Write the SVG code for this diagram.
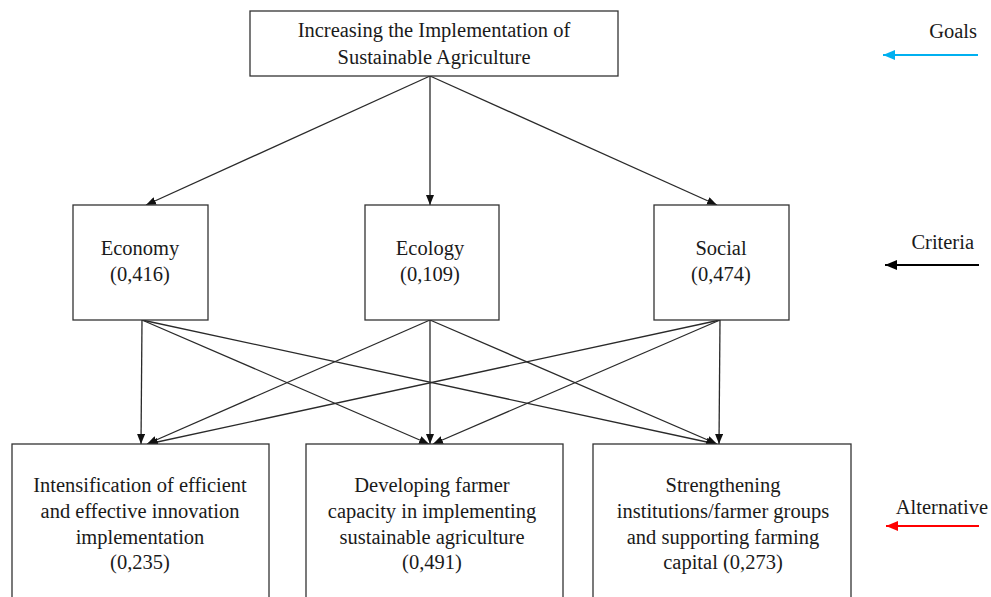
<svg xmlns="http://www.w3.org/2000/svg" width="991" height="597" viewBox="0 0 991 597">
<style>
  .box{fill:#fff;stroke:#333;stroke-width:1.3}
  .t{font-family:"Liberation Serif","DejaVu Serif","Times New Roman",serif;font-size:20.5px;fill:#1a1a1a;text-anchor:middle}
  .tr{font-family:"Liberation Serif","DejaVu Serif","Times New Roman",serif;font-size:20.5px;fill:#1a1a1a;text-anchor:end}
  .c{stroke:#2a2a2a;stroke-width:1.3;fill:none;marker-end:url(#ah)}
</style>
<defs>
  <marker id="ah" viewBox="0 0 10 8" refX="10" refY="4" markerWidth="10" markerHeight="8" markerUnits="userSpaceOnUse" orient="auto">
    <path d="M0,0 L10,4 L0,8 Z" fill="#111"/>
  </marker>
  <marker id="ahb" viewBox="0 0 12 10" refX="12" refY="5" markerWidth="12" markerHeight="10" markerUnits="userSpaceOnUse" orient="auto">
    <path d="M0,0 L12,5 L0,10 Z" fill="#000"/>
  </marker>
  <marker id="ahc" viewBox="0 0 12 10" refX="12" refY="5" markerWidth="12" markerHeight="10" markerUnits="userSpaceOnUse" orient="auto">
    <path d="M0,0 L12,5 L0,10 Z" fill="#00b0f0"/>
  </marker>
  <marker id="ahr" viewBox="0 0 12 10" refX="12" refY="5" markerWidth="12" markerHeight="10" markerUnits="userSpaceOnUse" orient="auto">
    <path d="M0,0 L12,5 L0,10 Z" fill="#ff0000"/>
  </marker>
</defs>

<g id="connectors">
  <line class="c" x1="430" y1="76" x2="146" y2="205"/>
  <line class="c" x1="430" y1="76" x2="430" y2="205"/>
  <line class="c" x1="430" y1="76" x2="717" y2="205"/>

  <line class="c" x1="142" y1="320" x2="141" y2="444"/>
  <line class="c" x1="142" y1="320" x2="429" y2="444"/>
  <line class="c" x1="142" y1="320" x2="716" y2="444"/>

  <line class="c" x1="430" y1="320" x2="147" y2="444"/>
  <line class="c" x1="430" y1="320" x2="430" y2="444"/>
  <line class="c" x1="430" y1="320" x2="717" y2="444"/>

  <line class="c" x1="720" y1="320" x2="148" y2="444"/>
  <line class="c" x1="720" y1="320" x2="433" y2="444"/>
  <line class="c" x1="720" y1="320" x2="719" y2="444"/>
</g>

<g id="goal">
  <rect class="box" x="250" y="11" width="368" height="65"/>
  <text class="t" x="434" y="37">Increasing the Implementation of</text>
  <text class="t" x="434" y="64">Sustainable Agriculture</text>
</g>

<g id="economy">
  <rect class="box" x="73" y="205" width="135" height="115"/>
  <text class="t" x="140" y="255">Economy</text>
  <text class="t" x="140" y="281">(0,416)</text>
</g>
<g id="ecology">
  <rect class="box" x="365" y="205" width="134" height="115"/>
  <text class="t" x="430" y="255">Ecology</text>
  <text class="t" x="430" y="281">(0,109)</text>
</g>
<g id="social">
  <rect class="box" x="654" y="205" width="135" height="115"/>
  <text class="t" x="721" y="255">Social</text>
  <text class="t" x="721" y="281">(0,474)</text>
</g>

<g id="alt1">
  <rect class="box" x="12" y="444" width="257" height="170"/>
  <text class="t" x="140" y="492">Intensification of efficient</text>
  <text class="t" x="140" y="518">and effective innovation</text>
  <text class="t" x="140" y="544">implementation</text>
  <text class="t" x="140" y="569">(0,235)</text>
</g>
<g id="alt2">
  <rect class="box" x="306" y="444" width="257" height="170"/>
  <text class="t" x="432" y="492">Developing farmer</text>
  <text class="t" x="432" y="518">capacity in implementing</text>
  <text class="t" x="432" y="544">sustainable agriculture</text>
  <text class="t" x="432" y="569">(0,491)</text>
</g>
<g id="alt3">
  <rect class="box" x="593" y="444" width="258" height="170"/>
  <text class="t" x="723" y="492">Strengthening</text>
  <text class="t" x="723" y="518">institutions/farmer groups</text>
  <text class="t" x="723" y="544">and supporting farming</text>
  <text class="t" x="723" y="569">capital (0,273)</text>
</g>

<g id="legend-goals">
  <text class="tr" x="977" y="38">Goals</text>
  <line x1="978" y1="55" x2="883" y2="55" stroke="#00b0f0" stroke-width="2" marker-end="url(#ahc)"/>
</g>
<g id="legend-criteria">
  <text class="tr" x="974" y="249">Criteria</text>
  <line x1="979" y1="265" x2="885" y2="265" stroke="#000" stroke-width="2" marker-end="url(#ahb)"/>
</g>
<g id="legend-alternative">
  <text class="tr" x="988" y="514">Alternative</text>
  <line x1="979" y1="526" x2="886" y2="526" stroke="#ff0000" stroke-width="2" marker-end="url(#ahr)"/>
</g>
</svg>
